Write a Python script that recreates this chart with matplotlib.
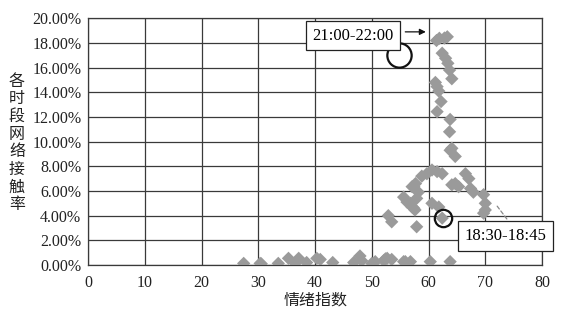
import matplotlib
matplotlib.use("Agg")
import matplotlib.pyplot as plt
from matplotlib.ticker import FuncFormatter

# Data: (情绪指数, 网络接触率 %)
emotion_index = [
    27.4, 30.3, 30.5, 33.5, 35.3, 37.1, 36.5, 38.5, 40.3, 40.9, 43.1, 46.8, 47.9, 48.2,
    50.0, 50.6, 52.1, 52.4, 52.7, 53.5, 55.6, 55.9, 56.8, 60.3, 63.8,
    52.9, 53.5, 57.9,
    55.6, 56.2, 56.8, 57.1, 57.4, 57.6, 57.9, 58.2, 57.4, 57.1, 57.7, 58.8,
    59.7, 60.6, 61.5, 62.4, 60.6, 61.8, 62.4,
    64.1, 64.7, 65.3, 66.5, 67.1, 67.4, 67.9, 69.7, 70.0, 70.0, 69.7,
    63.8, 64.7, 64.1, 63.7, 63.8, 61.5, 62.2, 61.8, 61.5, 61.2, 64.1, 63.7,
    63.4, 63.0, 62.4, 61.4, 61.9, 62.8, 63.3,
]
contact_rate = [
    0.13, 0.13, 0.10, 0.13, 0.54, 0.54, 0.13, 0.20, 0.54, 0.45, 0.20, 0.20, 0.73, 0.35,
    0.13, 0.27, 0.35, 0.50, 0.54, 0.45, 0.27, 0.27, 0.27, 0.27, 0.27,
    4.00, 3.50, 3.10,
    5.50, 5.10, 5.00, 4.70, 4.60, 4.46, 5.40, 5.90, 6.35, 6.35, 6.60, 7.20,
    7.40, 7.70, 7.57, 7.40, 5.00, 4.70, 3.80,
    6.50, 6.60, 6.35, 7.40, 7.00, 6.20, 5.90, 5.70, 5.00, 4.46, 4.20,
    9.30, 8.80, 9.46, 10.80, 11.80, 12.43, 13.25, 14.10, 14.46, 14.80, 15.10, 15.80,
    16.35, 16.76, 17.17, 18.20, 18.38, 18.40, 18.50,
]

x_ticks = [0, 10, 20, 30, 40, 50, 60, 70, 80]
y_ticks = [0, 2, 4, 6, 8, 10, 12, 14, 16, 18, 20]
label_peak = "21:00-22:00"
label_low = "18:30-18:45"
x_title = "情绪指数"
y_title = "各时段网络接触率"

plt.rcParams['font.family'] = ['Liberation Serif', 'Noto Sans CJK SC', 'DejaVu Sans']

fig = plt.figure(figsize=(5.66, 3.21), dpi=100)
ax = fig.add_axes([0.156, 0.1745, 0.8016, 0.7685])

ax.scatter(emotion_index, contact_rate, marker='D', s=46, color='#9a9a9a',
           edgecolors='none', zorder=3)

ax.set_xlim(0, 80)
ax.set_ylim(0, 20)
ax.set_xticks(x_ticks)
ax.set_yticks(y_ticks)
ax.yaxis.set_major_formatter(FuncFormatter(lambda v, p: f"{v:.2f}%"))
ax.grid(True, color='#3a3a3a', linewidth=0.9, zorder=0)
ax.set_axisbelow(True)
for s in ax.spines.values():
    s.set_color('#3a3a3a')
    s.set_linewidth(0.9)
ax.tick_params(axis='both', length=0, labelsize=11.5, colors='#222222')
ax.tick_params(axis='x', pad=7)
ax.tick_params(axis='y', pad=5)

# Y title stacked vertically
fig.text(0.030, 0.555, "\n".join(y_title), ha='center', va='center',
         fontsize=11.5, family=['Noto Sans CJK SC'], linespacing=1.05, color='#222222')
fig.text(0.557, 0.065, x_title, ha='center', va='center', fontsize=11.5,
         family=['Noto Sans CJK SC'], color='#222222')

# Circles
ax.plot([54.7], [17.03], marker='o', ms=17.5, mfc='none', mec='#111111', mew=1.6,
        zorder=5, clip_on=False)
ax.plot([62.5], [3.79], marker='o', ms=12.5, mfc='none', mec='#111111', mew=1.6,
        zorder=5, clip_on=False)

# Label boxes
bbox = dict(boxstyle='square,pad=0.4', fc='white', ec='#222222', lw=0.9)
ax.text(46.7, 18.6, label_peak, ha='center', va='center', fontsize=12,
        bbox=bbox, zorder=6)
ax.annotate("", xy=(60.0, 18.9), xytext=(55.4, 18.9),
            arrowprops=dict(arrowstyle='-|>', color='#111111', lw=0.9,
                            mutation_scale=9), zorder=6)
ax.text(73.5, 2.35, label_low, ha='center', va='center', fontsize=12,
        bbox=bbox, zorder=6, clip_on=False)
ax.annotate("", xy=(71.8, 4.95), xytext=(74.1, 3.55),
            arrowprops=dict(arrowstyle='-', color='#888888', lw=0.9,
                            linestyle=(0, (3, 2))), zorder=6)

fig.savefig("out.png", dpi=100)
